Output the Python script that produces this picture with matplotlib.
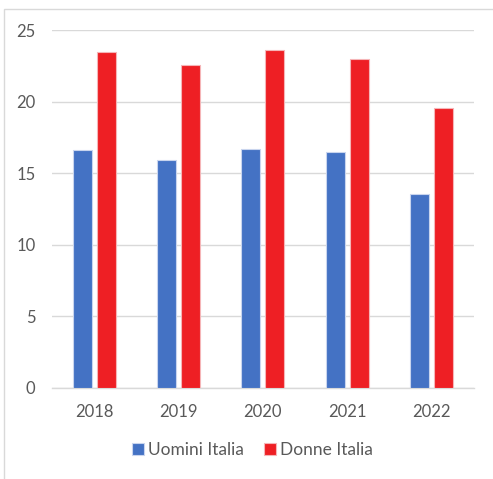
import matplotlib
matplotlib.use("Agg")
import matplotlib.pyplot as plt
import numpy as np
from matplotlib.patches import Rectangle

# Data
anni = ["2018", "2019", "2020", "2021", "2022"]
uomini = [16.6, 15.9, 16.7, 16.5, 13.55]
donne = [23.5, 22.6, 23.65, 23.0, 19.6]

blu = "#4472C4"
rosso = "#EE1F24"
grigio = "#595959"

plt.rcParams['font.family'] = ['Lato', 'DejaVu Sans']

fig = plt.figure(figsize=(4.93, 4.79), dpi=100)
ax = fig.add_axes([0.1055, 0.1906, 0.8555, 0.7460])

x = np.arange(len(anni))
w = 0.225
off = 0.1425
ax.bar(x - off, uomini, w, color=blu, edgecolor="#c9d5ee", linewidth=0.8,
       label="Uomini Italia", zorder=3)
ax.bar(x + off, donne, w, color=rosso, edgecolor="#f5b5b7", linewidth=0.8,
       label="Donne Italia", zorder=3)

ax.set_xlim(-0.5, len(anni) - 0.5)
ax.set_ylim(0, 25)
ax.set_yticks([0, 5, 10, 15, 20, 25])
ax.set_xticks(x)
ax.set_xticklabels(anni)
ax.grid(axis="y", color="#d9d9d9", linewidth=1.0, zorder=0)
ax.tick_params(axis="both", length=0, labelsize=12, labelcolor=grigio)
ax.tick_params(axis="y", pad=12)
ax.tick_params(axis="x", pad=12)
for s in ["top", "right", "left"]:
    ax.spines[s].set_visible(False)
ax.spines["bottom"].set_color("#d9d9d9")
ax.spines["bottom"].set_linewidth(1.0)

leg = ax.legend(loc="center", bbox_to_anchor=(0.475, -0.175), ncol=2, frameon=False,
                fontsize=12.5, handlelength=0.7, handleheight=0.7, handletextpad=0.2,
                columnspacing=1.2)
for t in leg.get_texts():
    t.set_color(grigio)

# chart border (partially cropped as in the reference)
fig.patches.append(Rectangle((4 / 493, -0.1), 1.2, (479 - 9) / 479 + 0.1,
                             transform=fig.transFigure, fill=False,
                             edgecolor="#d9d9d9", linewidth=1.0))

fig.savefig("out.png", dpi=100)
